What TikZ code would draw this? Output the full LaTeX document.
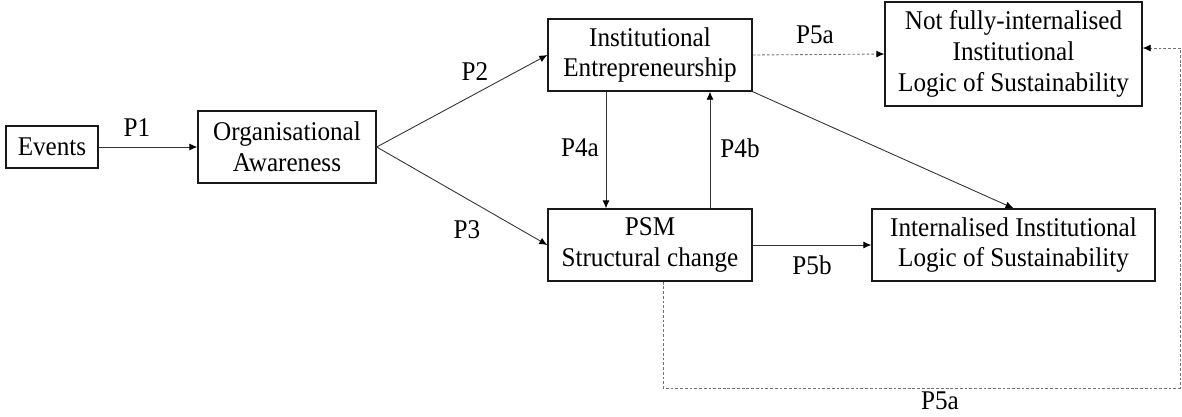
\documentclass[tikz,border=0pt]{standalone}
\usepackage{fontspec}
\setmainfont[FakeStretch=0.93]{Liberation Serif}
\usetikzlibrary{arrows.meta}
\tikzset{
	box/.style = {shape=rectangle, draw=black!90, line width=0.8pt, align=center, inner sep=0pt, font=\fontsize{15.4}{17.6}\selectfont},
	tag/.style = {font=\fontsize{15.4}{17.6}\selectfont},
	link/.style = {draw=black!80, line width=0.5pt, -{Latex[length=1.6mm,width=1.4mm,color=black]}},
	weak/.style = {link, draw=black!55, dash pattern=on 1.6pt off 1.1pt}
}

\begin{document}
\begin{tikzpicture}[x=0.02cm, y=-0.02cm]
	\useasboundingbox (0,0) rectangle (1182,416);
	% all the nodes
	\node[box, minimum width=1.84cm, minimum height=0.84cm] (events) at (52,147) {Events};
	\node[box, minimum width=3.56cm, minimum height=1.44cm] (aware) at (287,147) {Organisational\\Awareness};
	\node[box, minimum width=4.08cm, minimum height=1.44cm] (ie) at (650,55) {Institutional\\Entrepreneurship};
	\node[box, minimum width=4.08cm, minimum height=1.44cm] (psm) at (650,245) {PSM\\Structural change};
	\node[box, minimum width=5.14cm, minimum height=2.08cm] (nf) at (1013.5,54) {Not fully-internalised\\Institutional\\Logic of Sustainability};
	\node[box, minimum width=5.66cm, minimum height=1.44cm] (il) at (1013.5,245) {Internalised Institutional\\Logic of Sustainability};
	\coordinate (loop) at (1180,388);

	% links
	\draw[link] (events) -- (aware);
	\draw[link] (aware.east) -- (ie.west);
	\draw[link] (aware.east) -- (psm.west);
	\draw[link] ([xshift=-0.88cm]ie.south) -- ([xshift=-0.88cm]psm.north);
	\draw[link] ([xshift=1.2cm]psm.north) -- ([xshift=1.2cm]ie.south);
	\draw[link] (ie.south east) -- (il.north);
	\draw[link] (psm.east) -- (il.west);
	\draw[weak] (ie.east) -- (nf.west);
	\draw[weak] ([xshift=0.26cm]psm.south) |- (loop) |- ([yshift=0.12cm]nf.east);

	% labels
	\node[tag] (p1) at (137,128) {P1};
	\node[tag] (p2) at (475,72) {P2};
	\node[tag] (p3) at (467,230) {P3};
	\node[tag] (p4a) at (580,148) {P4a};
	\node[tag] (p4b) at (740,148) {P4b};
	\node[tag] (p5a) at (815,35) {P5a};
	\node[tag] (p5b) at (812,265) {P5b};
	\node[tag] (p5c) at (940,401) {P5a};
\end{tikzpicture}
\end{document}
